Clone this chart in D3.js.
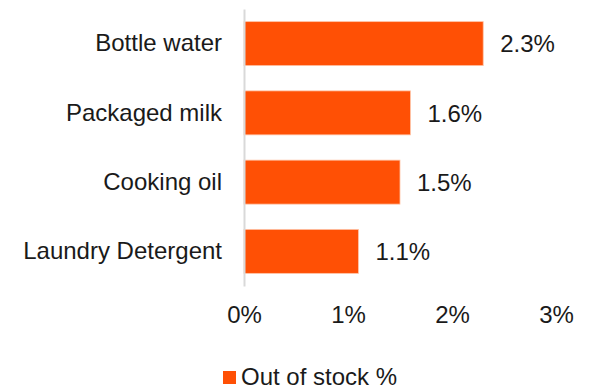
<!DOCTYPE html>
<html>
<head>
<meta charset="utf-8">
<script src="https://cdn.jsdelivr.net/npm/d3@7/dist/d3.min.js"></script>
<style>
  html, body { margin: 0; padding: 0; background: #fff; }
  svg { display: block; font-family: "Liberation Sans", Arial, sans-serif; }
</style>
</head>
<body>
<svg id="chart" width="595" height="389"></svg>
<script>
// Out-of-stock rate by product
const categories = ["Bottle water", "Packaged milk", "Cooking oil", "Laundry Detergent"];
const values = [2.3, 1.6, 1.5, 1.1];
const tickValues = [0, 1, 2, 3];
const seriesName = "Out of stock %";

const barColor = "#ff5005";
const fontSize = 24;

const svg = d3.select("#chart");

const x = d3.scaleLinear().domain([0, 3]).range([244, 556]);
const y = d3.scaleBand()
  .domain(categories)
  .range([9, 286])
  .paddingInner(0.365)
  .paddingOuter(0.1825);

// bars
svg.append("g")
  .selectAll("rect")
  .data(categories)
  .join("rect")
  .attr("x", x(0))
  .attr("y", d => y(d))
  .attr("width", (d, i) => x(values[i]) - x(0))
  .attr("height", y.bandwidth())
  .attr("fill", barColor)
  .attr("stroke", "#ffc3a6")
  .attr("stroke-width", 0.8);

// value labels
svg.append("g")
  .selectAll("text")
  .data(categories)
  .join("text")
  .attr("x", (d, i) => x(values[i]) + 17)
  .attr("y", d => y(d) + y.bandwidth() / 2)
  .attr("dy", "0.36em")
  .attr("font-size", fontSize)
  .attr("fill", "#1a1a1a")
  .text((d, i) => d3.format(".1f")(values[i]) + "%");

// category axis
const yAxis = svg.append("g")
  .attr("transform", `translate(${x(0)},0)`)
  .call(d3.axisLeft(y).tickSize(0).tickPadding(22));
yAxis.select(".domain")
  .attr("stroke", "#d9d9d9")
  .attr("stroke-width", 2);
yAxis.selectAll("text")
  .attr("font-size", fontSize)
  .attr("font-family", "Liberation Sans, Arial, sans-serif")
  .attr("fill", "#1a1a1a");

// value axis (labels only)
const xAxis = svg.append("g")
  .attr("transform", "translate(0,286)")
  .call(d3.axisBottom(x).tickValues(tickValues).tickSize(0).tickPadding(20)
    .tickFormat(d => d + "%"));
xAxis.select(".domain").remove();
xAxis.selectAll("text")
  .attr("font-size", fontSize)
  .attr("font-family", "Liberation Sans, Arial, sans-serif")
  .attr("fill", "#1a1a1a");

// legend
const legend = svg.append("g").attr("transform", "translate(223,371)");
legend.append("rect")
  .attr("width", 13)
  .attr("height", 13)
  .attr("fill", barColor);
legend.append("text")
  .attr("x", 18)
  .attr("y", 14)
  .attr("font-size", fontSize)
  .attr("fill", "#1a1a1a")
  .text(seriesName);
</script>
</body>
</html>
